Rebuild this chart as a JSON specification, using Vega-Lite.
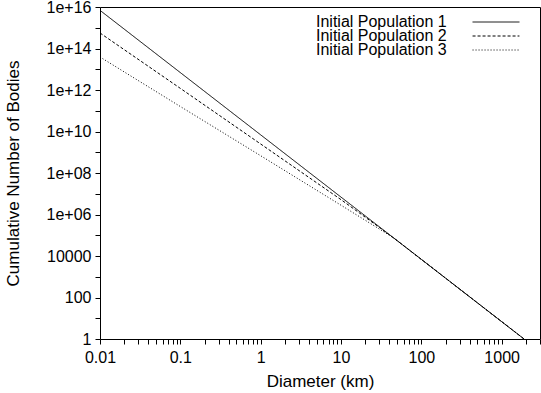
{
  "$schema": "https://vega.github.io/schema/vega-lite/v6.json",
  "width": 440,
  "height": 332,
  "autosize": "none",
  "padding": {"left": 100, "top": 7, "right": 1, "bottom": 54},
  "background": "white",
  "config": {
    "font": "Liberation Sans",
    "view": {"stroke": "black", "strokeWidth": 1}
  },
  "data": {"values": [
    {"series": "Initial Population 1", "D": 0.01, "N": 6.9e15},
    {"series": "Initial Population 1", "D": 1, "N": 6.9e9},
    {"series": "Initial Population 1", "D": 100, "N": 6900},
    {"series": "Initial Population 1", "D": 1900, "N": 1},
    {"series": "Initial Population 2", "D": 0.01, "N": 5.6e14},
    {"series": "Initial Population 2", "D": 0.1, "N": 1.2e12},
    {"series": "Initial Population 2", "D": 1, "N": 2.5e9},
    {"series": "Initial Population 2", "D": 10, "N": 5.2e6},
    {"series": "Initial Population 2", "D": 30, "N": 2.4e5},
    {"series": "Initial Population 2", "D": 50, "N": 5.5e4},
    {"series": "Initial Population 2", "D": 1900, "N": 1},
    {"series": "Initial Population 3", "D": 0.01, "N": 3.9e13},
    {"series": "Initial Population 3", "D": 0.1, "N": 1.6e11},
    {"series": "Initial Population 3", "D": 1, "N": 6.8e8},
    {"series": "Initial Population 3", "D": 10, "N": 2.8e6},
    {"series": "Initial Population 3", "D": 30, "N": 2.0e5},
    {"series": "Initial Population 3", "D": 45, "N": 7.5e4},
    {"series": "Initial Population 3", "D": 1900, "N": 1}
  ]},
  "mark": {"type": "line", "color": "black", "strokeWidth": 1, "clip": true},
  "encoding": {
    "x": {"field": "D", "type": "quantitative", "scale": {"type": "log", "domain": [0.01, 3000], "nice": false},
      "axis": {"orient": "bottom", "title": "Diameter (km)", "titlePadding": 8, "grid": false, "domain": false, "tickColor": "black",
        "titleFont": "Liberation Sans", "titleFontSize": 17, "titleFontWeight": "normal", "titleColor": "black",
        "labelFont": "Liberation Sans", "labelFontSize": 16, "labelColor": "black", "labelPadding": 5, "labelFlush": false,
        "tickCount": 20,
        "labelExpr": "abs(log(datum.value)/LN10 - round(log(datum.value)/LN10)) < 0.01 ? (datum.value < 1 ? format(datum.value, '.2~f') : format(datum.value, 'd')) : ''"}},
    "y": {"field": "N", "type": "quantitative", "scale": {"type": "log", "domain": [1, 1e16], "nice": false},
      "axis": {"orient": "left", "title": "Cumulative Number of Bodies", "titlePadding": 24, "grid": false, "domain": false, "tickColor": "black",
        "titleFont": "Liberation Sans", "titleFontSize": 17, "titleFontWeight": "normal", "titleColor": "black",
        "labelFont": "Liberation Sans", "labelFontSize": 16, "labelColor": "black", "labelPadding": 4,
        "tickCount": 16,
        "labelExpr": "round(log(datum.value)/LN10) % 2 == 1 ? '' : (datum.value < 1e5 ? format(datum.value, 'd') : '1e+' + pad(toString(round(log(datum.value)/LN10)), 2, '0', 'left'))"}},
    "strokeDash": {"field": "series", "type": "nominal",
      "scale": {"domain": ["Initial Population 1", "Initial Population 2", "Initial Population 3"], "range": [[1, 0], [3, 2], [1, 2]]},
      "legend": {"orient": "none", "legendX": 216, "legendY": 15, "padding": 0, "title": null, "symbolType": "stroke", "symbolSize": 2200, "symbolStrokeWidth": 1, "symbolStrokeColor": "black", "labelFontSize": 16, "labelFont": "Liberation Sans", "labelColor": "black", "labelAlign": "left", "labelBaseline": "middle", "rowPadding": -2, "labelLimit": 300,
        "encode": {"labels": {"update": {"x": {"value": 0}, "y": {"value": 0}}}, "symbols": {"update": {"x": {"value": 180}, "y": {"value": 0}}}}}}
  }
}
